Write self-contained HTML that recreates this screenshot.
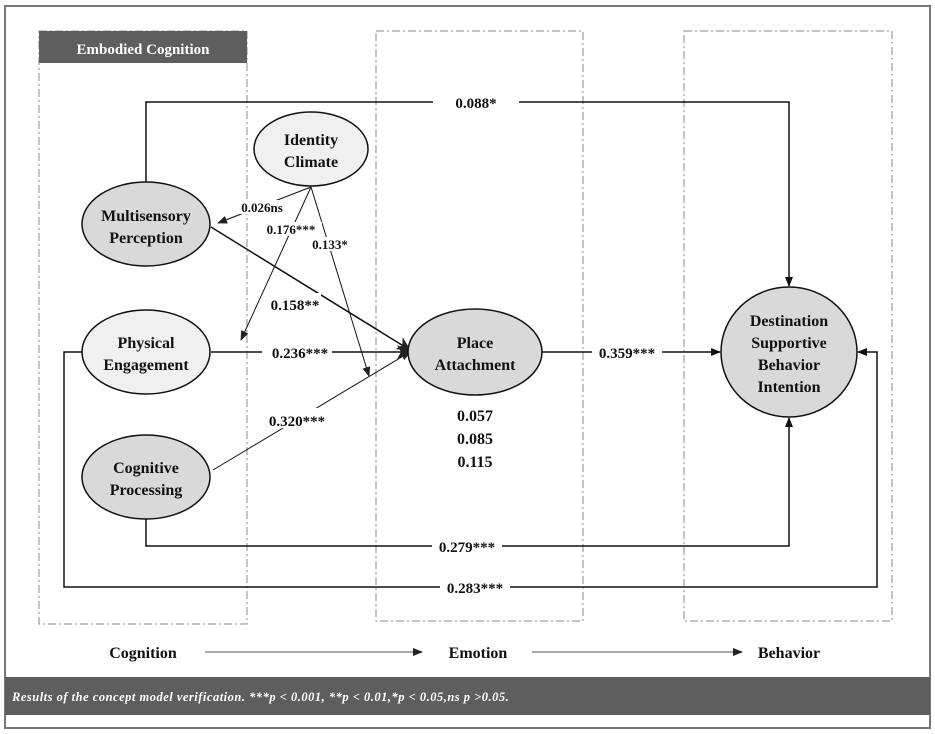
<!DOCTYPE html>
<html><head><meta charset="utf-8"><style>
body{margin:0;background:#fff}
svg{display:block}
text{font-family:"Liberation Serif",serif;font-weight:bold;fill:#111}
</style></head><body>
<svg width="935" height="734" viewBox="0 0 935 734" xmlns="http://www.w3.org/2000/svg">
<defs>
<marker id="a" markerWidth="10" markerHeight="8" refX="9" refY="4" orient="auto" markerUnits="userSpaceOnUse"><path d="M0,0L10,4L0,8z" fill="#111"/></marker>
<marker id="b" markerWidth="14" markerHeight="14" refX="13" refY="7" orient="auto" markerUnits="userSpaceOnUse"><path d="M0,0L14,7L0,14L4,7z" fill="#222"/></marker>
<marker id="g" markerWidth="10" markerHeight="8" refX="9" refY="4" orient="auto" markerUnits="userSpaceOnUse"><path d="M0,0L10,4L0,8z" fill="#222"/></marker>
</defs>
<rect x="5" y="6" width="925" height="722" fill="#fff" stroke="#777" stroke-width="2"/>
<g fill="none" stroke="#888" stroke-width="1" stroke-dasharray="8,3,2,3">
<rect x="39" y="31" width="208" height="593"/>
<rect x="376" y="31" width="207" height="590"/>
<rect x="684" y="31" width="208" height="590"/>
</g>
<rect x="39" y="31" width="208" height="32" fill="#5e5e5e"/>
<text x="143" y="54" font-size="15" text-anchor="middle" style="fill:#fff">Embodied Cognition</text>
<g stroke="#111" stroke-width="1.5" fill="none">
<polyline points="146,182 146,102 789,102 789,286" marker-end="url(#a)"/>
<line x1="211" y1="352" x2="410" y2="352" marker-end="url(#b)"/>
<line x1="542" y1="352" x2="720" y2="352" marker-end="url(#a)"/>
<polyline points="146,519 146,546 789,546 789,418" marker-end="url(#a)"/>
<polyline points="82,352 64,352 64,587 877,587 877,352 858,352" marker-end="url(#a)"/>
<line x1="211" y1="227" x2="410" y2="350" marker-end="url(#b)"/>
<line x1="213" y1="470" x2="410" y2="352" stroke-width="1" marker-end="url(#g)"/>
<line x1="311" y1="187" x2="218" y2="223" stroke-width="1" marker-end="url(#g)"/>
<line x1="311" y1="187" x2="241" y2="340" stroke-width="1" marker-end="url(#g)"/>
<line x1="311" y1="187" x2="369" y2="376" stroke-width="1" marker-end="url(#g)"/>
</g>
<g stroke="#111" stroke-width="1.5">
<ellipse cx="311" cy="149" rx="57" ry="37" fill="#f0f0f0"/>
<ellipse cx="146" cy="224" rx="64" ry="42" fill="#d9d9d9"/>
<ellipse cx="146" cy="352" rx="64" ry="42" fill="#f0f0f0"/>
<ellipse cx="146" cy="477" rx="64" ry="42" fill="#d9d9d9"/>
<ellipse cx="475" cy="352" rx="67" ry="43" fill="#d9d9d9"/>
<ellipse cx="789" cy="352" rx="68" ry="65" fill="#d9d9d9"/>
</g>
<g font-size="16" text-anchor="middle">
<text x="311" y="145">Identity</text><text x="311" y="167">Climate</text>
<text x="146" y="221">Multisensory</text><text x="146" y="243">Perception</text>
<text x="146" y="348">Physical</text><text x="146" y="370">Engagement</text>
<text x="146" y="473">Cognitive</text><text x="146" y="495">Processing</text>
<text x="475" y="348">Place</text><text x="475" y="370">Attachment</text>
<text x="789" y="326">Destination</text><text x="789" y="348">Supportive</text><text x="789" y="370">Behavior</text><text x="789" y="392">Intention</text>
<text x="475" y="421">0.057</text><text x="475" y="444">0.085</text><text x="475" y="467">0.115</text>
</g>
<g font-size="15" text-anchor="middle">
<rect x="433" y="93" width="86" height="18" fill="#fff"/>
<text x="476" y="108">0.088*</text>
<rect x="262" y="343" width="70" height="18" fill="#fff"/>
<text x="300" y="358">0.236***</text>
<rect x="592" y="343" width="70" height="18" fill="#fff"/>
<text x="627" y="358">0.359***</text>
<rect x="432" y="537" width="70" height="18" fill="#fff"/>
<text x="467" y="552">0.279***</text>
<rect x="440" y="578" width="70" height="18" fill="#fff"/>
<text x="475" y="593">0.283***</text>
<rect x="265" y="293" width="56" height="20" fill="#fff"/>
<text x="295" y="310">0.158**</text>
<rect x="262" y="408" width="70" height="20" fill="#fff"/>
<text x="297" y="426">0.320***</text>
</g>
<g font-size="13" text-anchor="middle">
<rect x="236" y="200" width="52" height="14" fill="#fff"/>
<text x="262" y="212">0.026ns</text>
<rect x="260" y="222" width="62" height="14" fill="#fff"/>
<text x="291" y="234">0.176***</text>
<rect x="310" y="237" width="44" height="14" fill="#fff"/>
<text x="330" y="249">0.133*</text>
</g>
<g font-size="16" text-anchor="middle" style="font-weight:bold">
<text x="143" y="658">Cognition</text>
<text x="478" y="658">Emotion</text>
<text x="789" y="658">Behavior</text>
</g>
<line x1="205" y1="652" x2="422" y2="652" stroke="#777" stroke-width="1.2" marker-end="url(#g)"/>
<line x1="532" y1="652" x2="742" y2="652" stroke="#777" stroke-width="1.2" marker-end="url(#g)"/>
<rect x="5" y="677" width="925" height="38" fill="#5e5e5e"/>
<text x="12" y="701" font-size="12.5" font-style="italic" style="fill:#fff;letter-spacing:0.5px">Results of the concept model verification.    ***p &lt; 0.001, **p &lt; 0.01,*p &lt; 0.05,ns p &gt;0.05.</text>
</svg>
</body></html>
